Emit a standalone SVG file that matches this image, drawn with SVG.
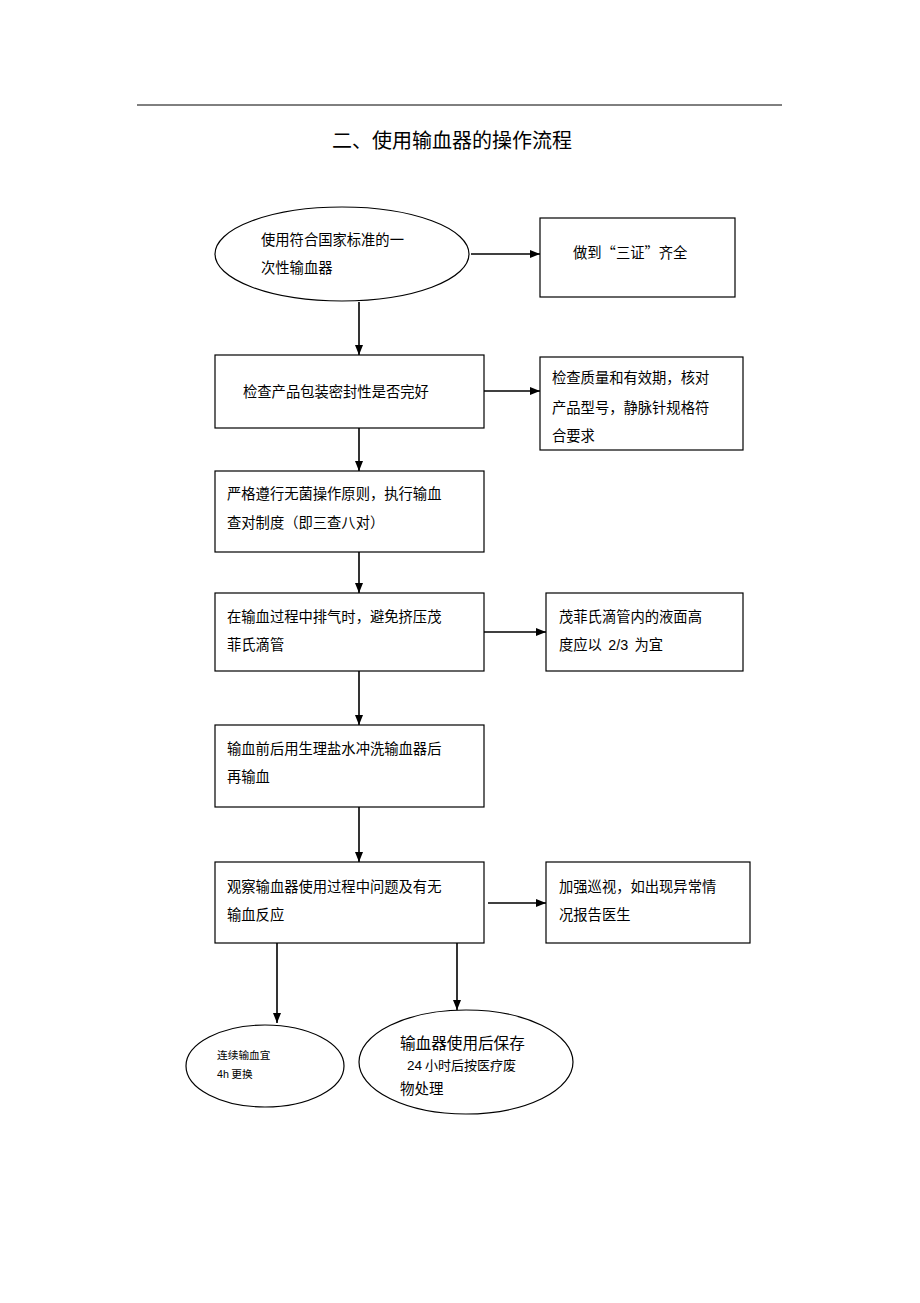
<svg xmlns="http://www.w3.org/2000/svg" width="920" height="1303" viewBox="0 0 920 1303">
<style>
.n{fill:#fff;stroke:#000;stroke-width:1.2}
.t{font-family:"Noto Sans CJK SC","Liberation Sans",sans-serif;font-size:14.3px;fill:#000}
.c{stroke:#000;stroke-width:1.6;fill:none;marker-end:url(#a)}
</style>
<defs>
<marker id="a" viewBox="0 0 10 8" refX="10" refY="4" markerWidth="10" markerHeight="8" markerUnits="userSpaceOnUse" orient="auto">
<path d="M0,0 L10,4 L0,8 Z" fill="#000"/>
</marker>
</defs>
<rect width="920" height="1303" fill="#fff"/>
<line x1="137" y1="105" x2="782" y2="105" stroke="#000" stroke-width="1"/>
<text x="452" y="148" text-anchor="middle" style="font-family:'Noto Sans CJK SC',sans-serif;font-size:20px">二、使用输血器的操作流程</text>
<g id="n1"><ellipse class="n" cx="342" cy="254" rx="127" ry="47"/>
<text class="t" x="261" y="245">使用符合国家标准的一</text><text class="t" x="261" y="273">次性输血器</text></g>
<g id="n2"><rect class="n" x="540" y="218" width="195" height="79"/><text class="t" x="573" y="258">做到“三证”齐全</text></g>
<g id="n3"><rect class="n" x="215" y="355" width="269" height="73"/><text class="t" x="243" y="397">检查产品包装密封性是否完好</text></g>
<g id="n4"><rect class="n" x="540" y="357" width="203" height="93"/>
<text class="t" x="552" y="383">检查质量和有效期，核对</text><text class="t" x="552" y="413">产品型号，静脉针规格符</text><text class="t" x="552" y="441">合要求</text></g>
<g id="n5"><rect class="n" x="215" y="471" width="269" height="81"/>
<text class="t" x="227" y="499">严格遵行无菌操作原则，执行输血</text><text class="t" x="227" y="528">查对制度（即三查八对）</text></g>
<g id="n6"><rect class="n" x="215" y="593" width="269" height="78"/>
<text class="t" x="227" y="622">在输血过程中排气时，避免挤压茂</text><text class="t" x="227" y="650">菲氏滴管</text></g>
<g id="n7"><rect class="n" x="546" y="593" width="197" height="78"/>
<text class="t" x="559" y="622">茂菲氏滴管内的液面高</text><text class="t" x="559" y="650" xml:space="preserve">度应以  <tspan font-family="Liberation Sans">2/3</tspan>  为宜</text></g>
<g id="n8"><rect class="n" x="215" y="725" width="269" height="82"/>
<text class="t" x="227" y="754">输血前后用生理盐水冲洗输血器后</text><text class="t" x="227" y="782">再输血</text></g>
<g id="n9"><rect class="n" x="215" y="862" width="269" height="81"/>
<text class="t" x="227" y="892">观察输血器使用过程中问题及有无</text><text class="t" x="227" y="920">输血反应</text></g>
<g id="n10"><rect class="n" x="546" y="862" width="204" height="81"/>
<text class="t" x="559" y="892">加强巡视，如出现异常情</text><text class="t" x="559" y="920">况报告医生</text></g>
<g id="n11"><ellipse class="n" cx="265" cy="1066" rx="79" ry="41"/>
<text class="t" x="217" y="1059" style="font-size:10.7px">连续输血宜</text><text class="t" x="217" y="1078" style="font-size:10.7px"><tspan font-family="Liberation Sans">4h</tspan> 更换</text></g>
<g id="n12"><ellipse class="n" cx="466" cy="1062" rx="107" ry="52"/>
<text class="t" x="400" y="1049" style="font-size:15.6px">输血器使用后保存</text>
<text class="t" x="407" y="1070" style="font-size:13px"><tspan font-family="Liberation Sans" font-size="13.5px">24</tspan> 小时后按医疗废</text>
<text class="t" x="400" y="1094" style="font-size:14.5px">物处理</text></g>
<g id="connectors">
<line class="c" x1="471" y1="254" x2="540" y2="254"/>
<line class="c" x1="359" y1="302" x2="359" y2="355"/>
<line class="c" x1="484" y1="391" x2="540" y2="391"/>
<line class="c" x1="359" y1="428" x2="359" y2="471"/>
<line class="c" x1="359" y1="552" x2="359" y2="593"/>
<line class="c" x1="484" y1="632" x2="546" y2="632"/>
<line class="c" x1="359" y1="671" x2="359" y2="725"/>
<line class="c" x1="359" y1="807" x2="359" y2="862"/>
<line class="c" x1="488" y1="903" x2="546" y2="903"/>
<line class="c" x1="277" y1="943" x2="277" y2="1023"/>
<line class="c" x1="457" y1="943" x2="457" y2="1010"/>
</g>
</svg>
